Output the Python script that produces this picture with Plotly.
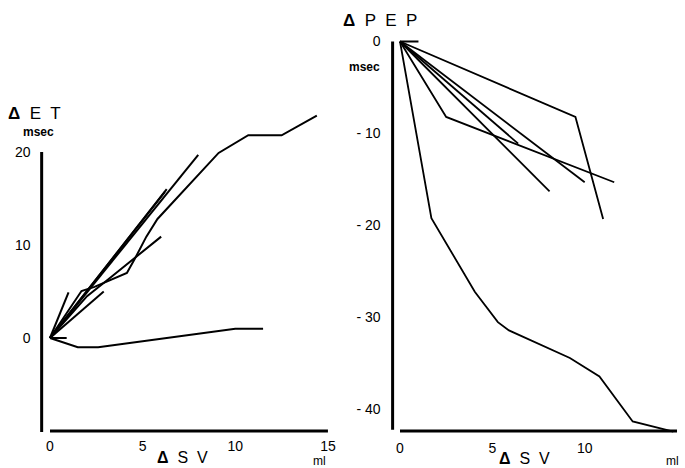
import plotly.graph_objects as go

# ---------------- data ----------------
# Left panel: Delta ET (msec) vs Delta SV (ml)
et_x = [
    [0, 1.0],
    [0, 0.9],
    [0, 1.5, 2.6, 10.0, 11.5],
    [0, 8.0],
    [0, 6.3],
    [0, 6.2],
    [0, 2.9],
    [0, 1.7, 2.4, 3.9, 4.15, 4.6, 5.2, 5.8, 9.1, 10.7, 12.5, 14.4],
    [0, 2.0, 3.2, 6.0],
]
et_y = [
    [0, 4.9],
    [0, 0.0],
    [0, -1.0, -1.0, 1.0, 1.0],
    [0, 19.7],
    [0, 16.0],
    [0, 15.7],
    [0, 5.0],
    [0, 5.05, 5.5, 6.8, 7.0, 8.6, 10.9, 12.8, 19.9, 21.8, 21.8, 23.9],
    [0, 4.5, 6.4, 10.9],
]

# Right panel: Delta PEP (msec) vs Delta SV (ml)
pep_x = [
    [0, 1.0],
    [0, 9.5, 11.0],
    [0, 2.5, 11.6],
    [0, 6.4],
    [0, 8.1],
    [0, 10.0],
    [0, 1.7, 4.05, 5.3, 5.9, 9.2, 10.8, 12.6, 14.8],
]
pep_y = [
    [0, 0.0],
    [0, -8.2, -19.3],
    [0, -8.2, -15.3],
    [0, -11.1],
    [0, -16.3],
    [0, -15.3],
    [0, -19.2, -27.2, -30.5, -31.4, -34.4, -36.4, -41.3, -42.4],
]

x_ticks = [0, 5, 10, 15]
et_ticks = [0, 10, 20]
pep_ticks = [0, -10, -20, -30, -40]
pep_ticktext = ["0", "- 10", "- 20", "- 30", "- 40"]

# ---------------- figure ----------------
W, H = 685, 468
FONT = "Liberation Sans, Arial, sans-serif"

fig = go.Figure()
for xs, ys in zip(et_x, et_y):
    fig.add_trace(go.Scatter(x=xs, y=ys, mode="lines",
                             line=dict(color="black", width=2),
                             xaxis="x", yaxis="y", showlegend=False))
for xs, ys in zip(pep_x, pep_y):
    fig.add_trace(go.Scatter(x=xs, y=ys, mode="lines",
                             line=dict(color="black", width=1.8),
                             xaxis="x2", yaxis="y2", showlegend=False))


def px_x(p):
    return p / W


def px_y(p):
    return 1 - p / H


axis_common = dict(showgrid=False, zeroline=False, showline=False, ticks="",
                   tickfont=dict(family=FONT, size=14, color="black"))

fig.update_layout(
    width=W, height=H,
    margin=dict(l=0, r=0, t=0, b=0),
    paper_bgcolor="white", plot_bgcolor="white",
    xaxis=dict(domain=[px_x(31.47), px_x(337.2)], range=[-1, 15.5],
               tickvals=x_ticks, anchor="y", ticklabelstandoff=-4,
               **axis_common),
    yaxis=dict(domain=[px_y(440.3), px_y(105.5)], range=[-11, 25],
               tickvals=et_ticks, anchor="x", **axis_common),
    xaxis2=dict(domain=[px_x(381.53), px_x(680.7)], range=[-1, 15.2],
                tickvals=x_ticks, anchor="y2", ticklabelstandoff=-4,
                **axis_common),
    yaxis2=dict(domain=[px_y(441.7), px_y(23.1)], range=[-43.5, 2],
                tickvals=pep_ticks, ticktext=pep_ticktext, anchor="x2",
                **axis_common),
)

# axis lines drawn in data coordinates
shapes = [
    dict(type="line", xref="x", yref="y", x0=-0.45, x1=-0.45, y0=20, y1=-10.1,
         line=dict(color="black", width=3)),
    dict(type="line", xref="x", yref="y", x0=0, x1=15, y0=-10.0, y1=-10.0,
         line=dict(color="black", width=3)),
    dict(type="line", xref="x2", yref="y2", x0=-0.4, x1=-0.4, y0=0, y1=-42.2,
         line=dict(color="black", width=3)),
    dict(type="line", xref="x2", yref="y2", x0=0, x1=15, y0=-42.35, y1=-42.35,
         line=dict(color="black", width=3)),
]
fig.update_layout(shapes=shapes)


def ann(text, x, y, size, xanchor="left", yanchor="middle"):
    return dict(text=text, x=px_x(x), y=px_y(y), xref="paper", yref="paper",
                showarrow=False, xanchor=xanchor, yanchor=yanchor,
                font=dict(family=FONT, size=size, color="black"))


annotations = [
    ann("<b>Δ</b>  E  T", 6, 113, 17),
    ann("<b>msec</b>", 21, 132, 12),
    ann("<b>Δ</b>  P  E  P", 341, 21, 17),
    ann("<b>msec</b>", 347, 67, 12),
    ann("<b>Δ</b>  S  V", 155, 457, 16),
    ann("ml", 311, 461, 12),
    ann("<b>Δ</b>  S  V", 497, 458, 16),
    ann("ml", 664, 461, 12),
]
fig.update_layout(annotations=annotations)

fig.write_html("out.html")
